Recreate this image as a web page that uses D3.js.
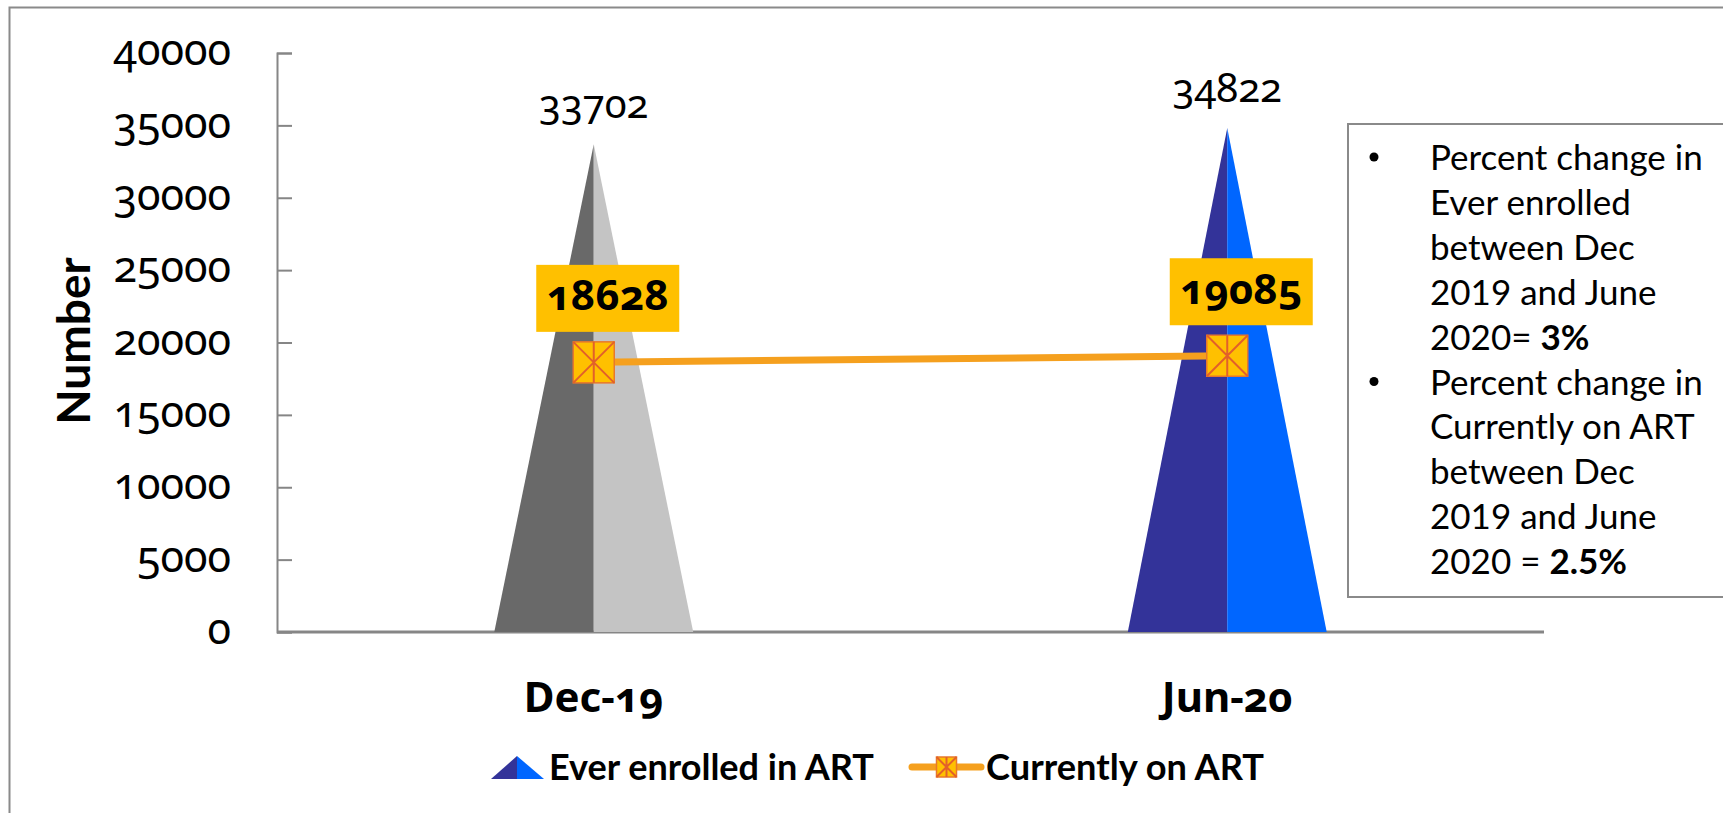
<!DOCTYPE html>
<html>
<head>
<meta charset="utf-8">
<script src="https://cdn.jsdelivr.net/npm/d3@7/dist/d3.min.js"></script>
<style>
  html, body { margin: 0; padding: 0; background: #fff; }
  svg { display: block; }
  .old { font-variant-numeric: oldstyle-nums; font-feature-settings: "onum" 1; }
</style>
</head>
<body>
<svg id="chart" width="1723" height="813"></svg>
<script>
// ---- data ----
const categories = ["Dec-19", "Jun-20"];
const everEnrolled = [33702, 34822];
const currentlyOnART = [18628, 19085];
const yTicks = [0, 5000, 10000, 15000, 20000, 25000, 30000, 35000, 40000];
const seriesNames = ["Ever enrolled in ART", "Currently on ART"];
const yTitle = "Number";
const noteLines = [
  { bullet: true,  parts: [["Percent change in", false]] },
  { bullet: false, parts: [["Ever enrolled", false]] },
  { bullet: false, parts: [["between Dec", false]] },
  { bullet: false, parts: [["2019 and June", false]] },
  { bullet: false, parts: [["2020= ", false], ["3%", true]] },
  { bullet: true,  parts: [["Percent change in", false]] },
  { bullet: false, parts: [["Currently on ART", false]] },
  { bullet: false, parts: [["between Dec", false]] },
  { bullet: false, parts: [["2019 and June", false]] },
  { bullet: false, parts: [["2020 = ", false], ["2.5%", true]] }
];
const pyramidColors = [["#696969", "#C4C4C4"], ["#333399", "#0066FF"]];

// ---- layout ----
const svg = d3.select("#chart");
const numFont = "'Noto Sans', 'Open Sans', sans-serif";
const boldFont = "Lato, 'Noto Sans', sans-serif";
const noteFont = "Lato, 'Open Sans', sans-serif";
const legendFont = "Lato, sans-serif";

const plot = { left: 277, right: 1544, top: 53, bottom: 632 };
const x = d3.scaleBand().domain(categories).range([plot.left, plot.right]).padding(0);
const y = d3.scaleLinear().domain([0, 40000]).range([plot.bottom, plot.top]);

// outer frame
svg.append("rect").attr("x", 9.5).attr("y", 7.5).attr("width", 1740).attr("height", 840)
  .attr("fill", "none").attr("stroke", "#8a8a8a").attr("stroke-width", 2);

// y axis
const yAxis = svg.append("g").attr("transform", `translate(${plot.left},0)`)
  .call(d3.axisLeft(y).tickValues(yTicks).tickSize(-15).tickPadding(46).tickFormat(d3.format("d")));
yAxis.select(".domain").attr("stroke", "#868686").attr("stroke-width", 2);
yAxis.selectAll(".tick line").attr("stroke", "#868686").attr("stroke-width", 2);
yAxis.selectAll(".tick text").attr("class", "old")
  .attr("font-family", numFont).attr("font-size", 43).attr("fill", "#000")
  .attr("dy", "0.27em");

// x axis
const xAxis = svg.append("g").attr("transform", `translate(0,${plot.bottom})`)
  .call(d3.axisBottom(x).tickSize(0).tickPadding(0));
xAxis.select(".domain").attr("stroke", "#868686").attr("stroke-width", 3)
  .attr("d", `M${plot.left},0H${plot.right}`);
xAxis.selectAll(".tick text").attr("class", "old")
  .attr("font-family", numFont).attr("font-weight", "bold").attr("font-size", 42)
  .attr("fill", "#000").attr("dy", 0).attr("y", 80);

// y title
svg.append("text").attr("transform", `translate(90,341) rotate(-90)`)
  .attr("text-anchor", "middle").attr("font-family", boldFont).attr("font-weight", "bold")
  .attr("font-size", 46).attr("fill", "#000").text(yTitle);

// pyramids
const halfW = x.bandwidth() * 0.157;
categories.forEach((c, i) => {
  const cx = x(c) + x.bandwidth() / 2;
  const v = everEnrolled[i];
  const g = svg.append("g");
  g.append("path").attr("fill", pyramidColors[i][0])
    .attr("d", `M${cx - halfW},${y(0)}L${cx},${y(v)}L${cx},${y(0)}Z`);
  g.append("path").attr("fill", pyramidColors[i][1])
    .attr("d", `M${cx},${y(0)}L${cx},${y(v)}L${cx + halfW},${y(0)}Z`);
  g.append("text").attr("class", "old").attr("x", cx).attr("y", y(v) - 26)
    .attr("text-anchor", "middle").attr("font-family", numFont).attr("font-size", 40)
    .attr("fill", "#000").text(v);
});

// currently on ART line
const pts = categories.map((c, i) => [x(c) + x.bandwidth() / 2, y(currentlyOnART[i])]);
svg.append("path").attr("d", d3.line()(pts)).attr("fill", "none")
  .attr("stroke", "#F5A01E").attr("stroke-width", 7);

function marker(g, cx, cy, s) {
  g.append("rect").attr("x", cx - s / 2).attr("y", cy - s / 2).attr("width", s).attr("height", s)
    .attr("fill", "#FFC000").attr("stroke", "#E8782B").attr("stroke-width", 1.5);
  g.append("path").attr("fill", "none").attr("stroke", "#E2602A").attr("stroke-width", 2)
    .attr("d", `M${cx - s/2},${cy - s/2}L${cx + s/2},${cy + s/2}M${cx + s/2},${cy - s/2}L${cx - s/2},${cy + s/2}M${cx},${cy - s/2}L${cx},${cy + s/2}`);
}
pts.forEach((p, i) => {
  const g = svg.append("g");
  marker(g, p[0], p[1], 41);
  const bw = 143, bh = 67;
  const bx = p[0] + 14, by = p[1] - 64;
  g.append("rect").attr("x", bx - bw / 2).attr("y", by - bh / 2).attr("width", bw).attr("height", bh)
    .attr("fill", "#FFC000");
  g.append("text").attr("class", "old").attr("x", bx).attr("y", by + 12)
    .attr("text-anchor", "middle").attr("font-family", numFont).attr("font-weight", "bold")
    .attr("font-size", 42).attr("fill", "#000").text(currentlyOnART[i]);
});

// note box
svg.append("rect").attr("x", 1348).attr("y", 124).attr("width", 400).attr("height", 473)
  .attr("fill", "#fff").attr("stroke", "#8a8a8a").attr("stroke-width", 2);
noteLines.forEach((ln, i) => {
  const by = 170 + i * 44.9;
  if (ln.bullet) {
    svg.append("circle").attr("cx", 1374).attr("cy", by - 13).attr("r", 4.5).attr("fill", "#000");
  }
  const t = svg.append("text").attr("x", 1430).attr("y", by)
    .attr("font-family", noteFont).attr("font-size", 35).attr("fill", "#000");
  ln.parts.forEach(p => t.append("tspan").attr("font-weight", p[1] ? "bold" : "normal").text(p[0]));
});

// legend
const lg = svg.append("g");
const ly = 767;
lg.append("path").attr("fill", pyramidColors[1][0]).attr("d", `M491,${ly + 12}L517,${ly - 11}L517,${ly + 12}Z`);
lg.append("path").attr("fill", pyramidColors[1][1]).attr("d", `M517,${ly + 12}L517,${ly - 11}L544,${ly + 12}Z`);
lg.append("text").attr("x", 549).attr("y", ly + 13).attr("font-family", legendFont)
  .attr("font-weight", "bold").attr("font-size", 36).attr("fill", "#000")
  .attr("textLength", 325).attr("lengthAdjust", "spacingAndGlyphs").text(seriesNames[0]);
lg.append("path").attr("d", `M912,${ly}L981,${ly}`).attr("stroke", "#F5A01E").attr("stroke-width", 7)
  .attr("stroke-linecap", "round");
marker(lg, 946.5, ly, 20);
lg.append("text").attr("x", 986).attr("y", ly + 13).attr("font-family", legendFont)
  .attr("font-weight", "bold").attr("font-size", 36).attr("fill", "#000")
  .attr("textLength", 278).attr("lengthAdjust", "spacingAndGlyphs").text(seriesNames[1]);
</script>
</body>
</html>
